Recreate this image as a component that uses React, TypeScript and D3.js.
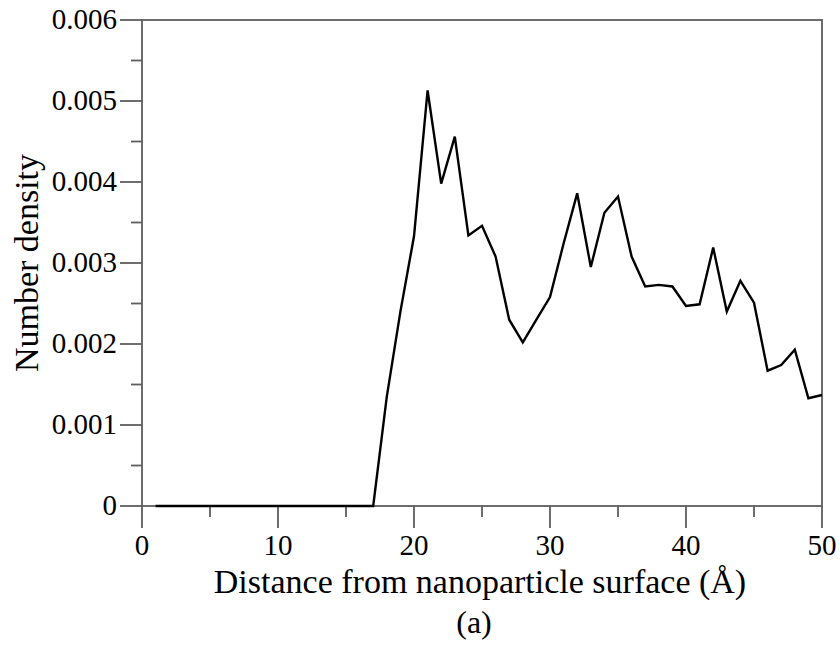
import React, { useEffect, useRef } from 'react';
import * as d3 from 'd3';

// distance from surface (Å) and number density
const distances = [
  1, 2, 3, 4, 5, 6, 7, 8, 9, 10, 11, 12, 13, 14, 15, 16, 17, 18, 19, 20, 21, 22, 23, 24, 25,
  26, 27, 28, 29, 30, 31, 32, 33, 34, 35, 36, 37, 38, 39, 40, 41, 42, 43, 44, 45, 46, 47, 48,
  49, 50,
];
const density = [
  0, 0, 0, 0, 0, 0, 0, 0, 0, 0, 0, 0, 0, 0, 0, 0, 0, 0.00135, 0.0024, 0.00333, 0.00513,
  0.00398, 0.00456, 0.00334, 0.00346, 0.00308, 0.0023, 0.00202, 0.0023, 0.00258, 0.00324,
  0.00386, 0.00295, 0.00362, 0.00382, 0.00308, 0.00271, 0.00273, 0.00271, 0.00247, 0.00249,
  0.00319, 0.0024, 0.00278, 0.00251, 0.00167, 0.00174, 0.00193, 0.00133, 0.00137,
];
const xTicks = [0, 10, 20, 30, 40, 50];
const yTicks = [0, 0.001, 0.002, 0.003, 0.004, 0.005, 0.006];
const yTickLabels = ['0', '0.001', '0.002', '0.003', '0.004', '0.005', '0.006'];

const W = 840;
const H = 645;
const FONT = '"Liberation Serif", "Times New Roman", serif';

const App: React.FC = () => {
  const svgRef = useRef<SVGSVGElement>(null);

  useEffect(() => {
    if (!svgRef.current) return;
    const svg = d3.select(svgRef.current);
    svg.selectAll('*').remove();

    const left = 142;
    const right = 822;
    const top = 20;
    const bottom = 506;
    const axisColor = '#5e5e5e';

    const x = d3.scaleLinear().domain([0, 50]).range([left, right]);
    const y = d3.scaleLinear().domain([0, 0.006]).range([bottom, top]);

    // frame
    svg
      .append('rect')
      .attr('x', left)
      .attr('y', top)
      .attr('width', right - left)
      .attr('height', bottom - top)
      .attr('fill', 'none')
      .attr('stroke', axisColor)
      .attr('stroke-width', 1.8);

    // x ticks (outward)
    const xMinor = d3.range(0, 51, 5).filter(v => v % 10 !== 0);
    xMinor.forEach(v => {
      svg
        .append('line')
        .attr('x1', x(v))
        .attr('x2', x(v))
        .attr('y1', bottom)
        .attr('y2', bottom + 11)
        .attr('stroke', axisColor)
        .attr('stroke-width', 1.8);
    });
    xTicks.forEach(v => {
      svg
        .append('line')
        .attr('x1', x(v))
        .attr('x2', x(v))
        .attr('y1', bottom)
        .attr('y2', bottom + 22)
        .attr('stroke', axisColor)
        .attr('stroke-width', 1.8);
      svg
        .append('text')
        .attr('x', x(v))
        .attr('y', 555)
        .attr('text-anchor', 'middle')
        .attr('font-family', FONT)
        .attr('font-size', 29)
        .attr('fill', '#000')
        .text(String(v));
    });

    // y ticks (outward)
    const yMinor = yTicks.slice(0, -1).map(v => v + 0.0005);
    yMinor.forEach(v => {
      svg
        .append('line')
        .attr('x1', left - 11)
        .attr('x2', left)
        .attr('y1', y(v))
        .attr('y2', y(v))
        .attr('stroke', axisColor)
        .attr('stroke-width', 1.8);
    });
    yTicks.forEach((v, i) => {
      svg
        .append('line')
        .attr('x1', left - 22)
        .attr('x2', left)
        .attr('y1', y(v))
        .attr('y2', y(v))
        .attr('stroke', axisColor)
        .attr('stroke-width', 1.8);
      svg
        .append('text')
        .attr('x', 117)
        .attr('y', y(v) + 9)
        .attr('text-anchor', 'end')
        .attr('font-family', FONT)
        .attr('font-size', 29)
        .attr('fill', '#000')
        .text(yTickLabels[i]);
    });

    // data line
    const line = d3
      .line<number>()
      .x((_, i) => x(distances[i]))
      .y(d => y(d));
    svg
      .append('path')
      .datum(density)
      .attr('d', line)
      .attr('fill', 'none')
      .attr('stroke', '#000')
      .attr('stroke-width', 2.4)
      .attr('stroke-linejoin', 'miter');

    // axis titles
    svg
      .append('text')
      .attr('x', (left + right) / 2 - 2)
      .attr('y', 593)
      .attr('text-anchor', 'middle')
      .attr('font-family', FONT)
      .attr('font-size', 34)
      .attr('fill', '#000')
      .text('Distance from nanoparticle surface (Å)');
    svg
      .append('text')
      .attr('x', 474)
      .attr('y', 633)
      .attr('text-anchor', 'middle')
      .attr('font-family', FONT)
      .attr('font-size', 32)
      .attr('fill', '#000')
      .text('(a)');
    svg
      .append('text')
      .attr('transform', `translate(38, ${(top + bottom) / 2}) rotate(-90)`)
      .attr('text-anchor', 'middle')
      .attr('font-family', FONT)
      .attr('font-size', 34)
      .attr('fill', '#000')
      .text('Number density');
  }, []);

  return (
    <svg
      ref={svgRef}
      width={W}
      height={H}
      style={{ position: 'absolute', left: 0, top: 0, background: '#fff' }}
    />
  );
};

export default App;
